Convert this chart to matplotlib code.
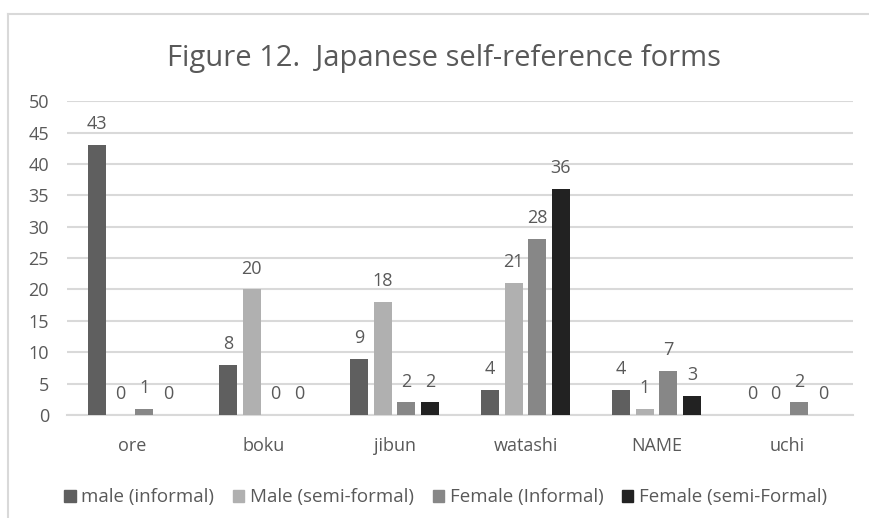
import numpy as np
import matplotlib.pyplot as plt
from matplotlib.lines import Line2D
from matplotlib.patches import Patch

plt.rcParams['font.family'] = ['Open Sans', 'DejaVu Sans']

categories = ['ore', 'boku', 'jibun', 'watashi', 'NAME', 'uchi']
series_names = ['male (informal)', 'Male (semi-formal)', 'Female (Informal)', 'Female (semi-Formal)']
male_informal = [43, 8, 9, 4, 4, 0]
male_semiformal = [0, 20, 18, 21, 1, 0]
female_informal = [1, 0, 2, 28, 7, 2]
female_semiformal = [0, 0, 2, 36, 3, 0]
colors = ['#5f5f5f', '#b0b0b0', '#878787', '#222222']

text_color = '#595959'
grid_color = '#d9d9d9'

fig = plt.figure(figsize=(8.69, 5.18), dpi=100)
ax = fig.add_axes([0.0771, 0.1988, 0.9045, 0.606])

# chart border (top and left edge)
fig.add_artist(Line2D([0.009, 1.0], [0.973, 0.973], color=grid_color, lw=1.5, transform=fig.transFigure))
fig.add_artist(Line2D([0.009, 0.009], [0.0, 0.973], color=grid_color, lw=1.5, transform=fig.transFigure))

x = np.arange(len(categories))
width = 0.137
step = 0.18
all_series = [male_informal, male_semiformal, female_informal, female_semiformal]
for i, vals in enumerate(all_series):
    pos = x + (i - 1.5) * step
    ax.bar(pos, vals, width, color=colors[i], zorder=3)
    for xp, v in zip(pos, vals):
        ax.text(xp, v + 1.9, str(v), ha='center', va='bottom', fontsize=13, color=text_color)

ax.set_xlim(-0.5, len(categories) - 0.5)
ax.set_ylim(0, 50)
ax.set_yticks(range(0, 51, 5))
ax.yaxis.grid(True, color=grid_color, lw=1.5, zorder=0)
ax.set_xticks(x)
ax.set_xticklabels(categories)
ax.tick_params(axis='both', length=0, labelsize=13, colors=text_color)
ax.tick_params(axis='y', pad=13)
ax.tick_params(axis='x', pad=16)
for s in ['top', 'right', 'left']:
    ax.spines[s].set_visible(False)
ax.spines['bottom'].set_color(grid_color)
ax.spines['bottom'].set_linewidth(1.5)

fig.text(0.511, 0.888, 'Figure 12.  Japanese self-reference forms', ha='center', va='center',
         fontsize=21, color=text_color)

handles = [Patch(color=c) for c in colors]
fig.legend(handles, series_names, loc='center', bbox_to_anchor=(0.513, 0.04), ncol=4, frameon=False,
           fontsize=13.5, labelcolor=text_color, handlelength=0.6, handleheight=0.6,
           handletextpad=0.3, columnspacing=1.0)

fig.savefig('out.png', dpi=100, facecolor='white')
